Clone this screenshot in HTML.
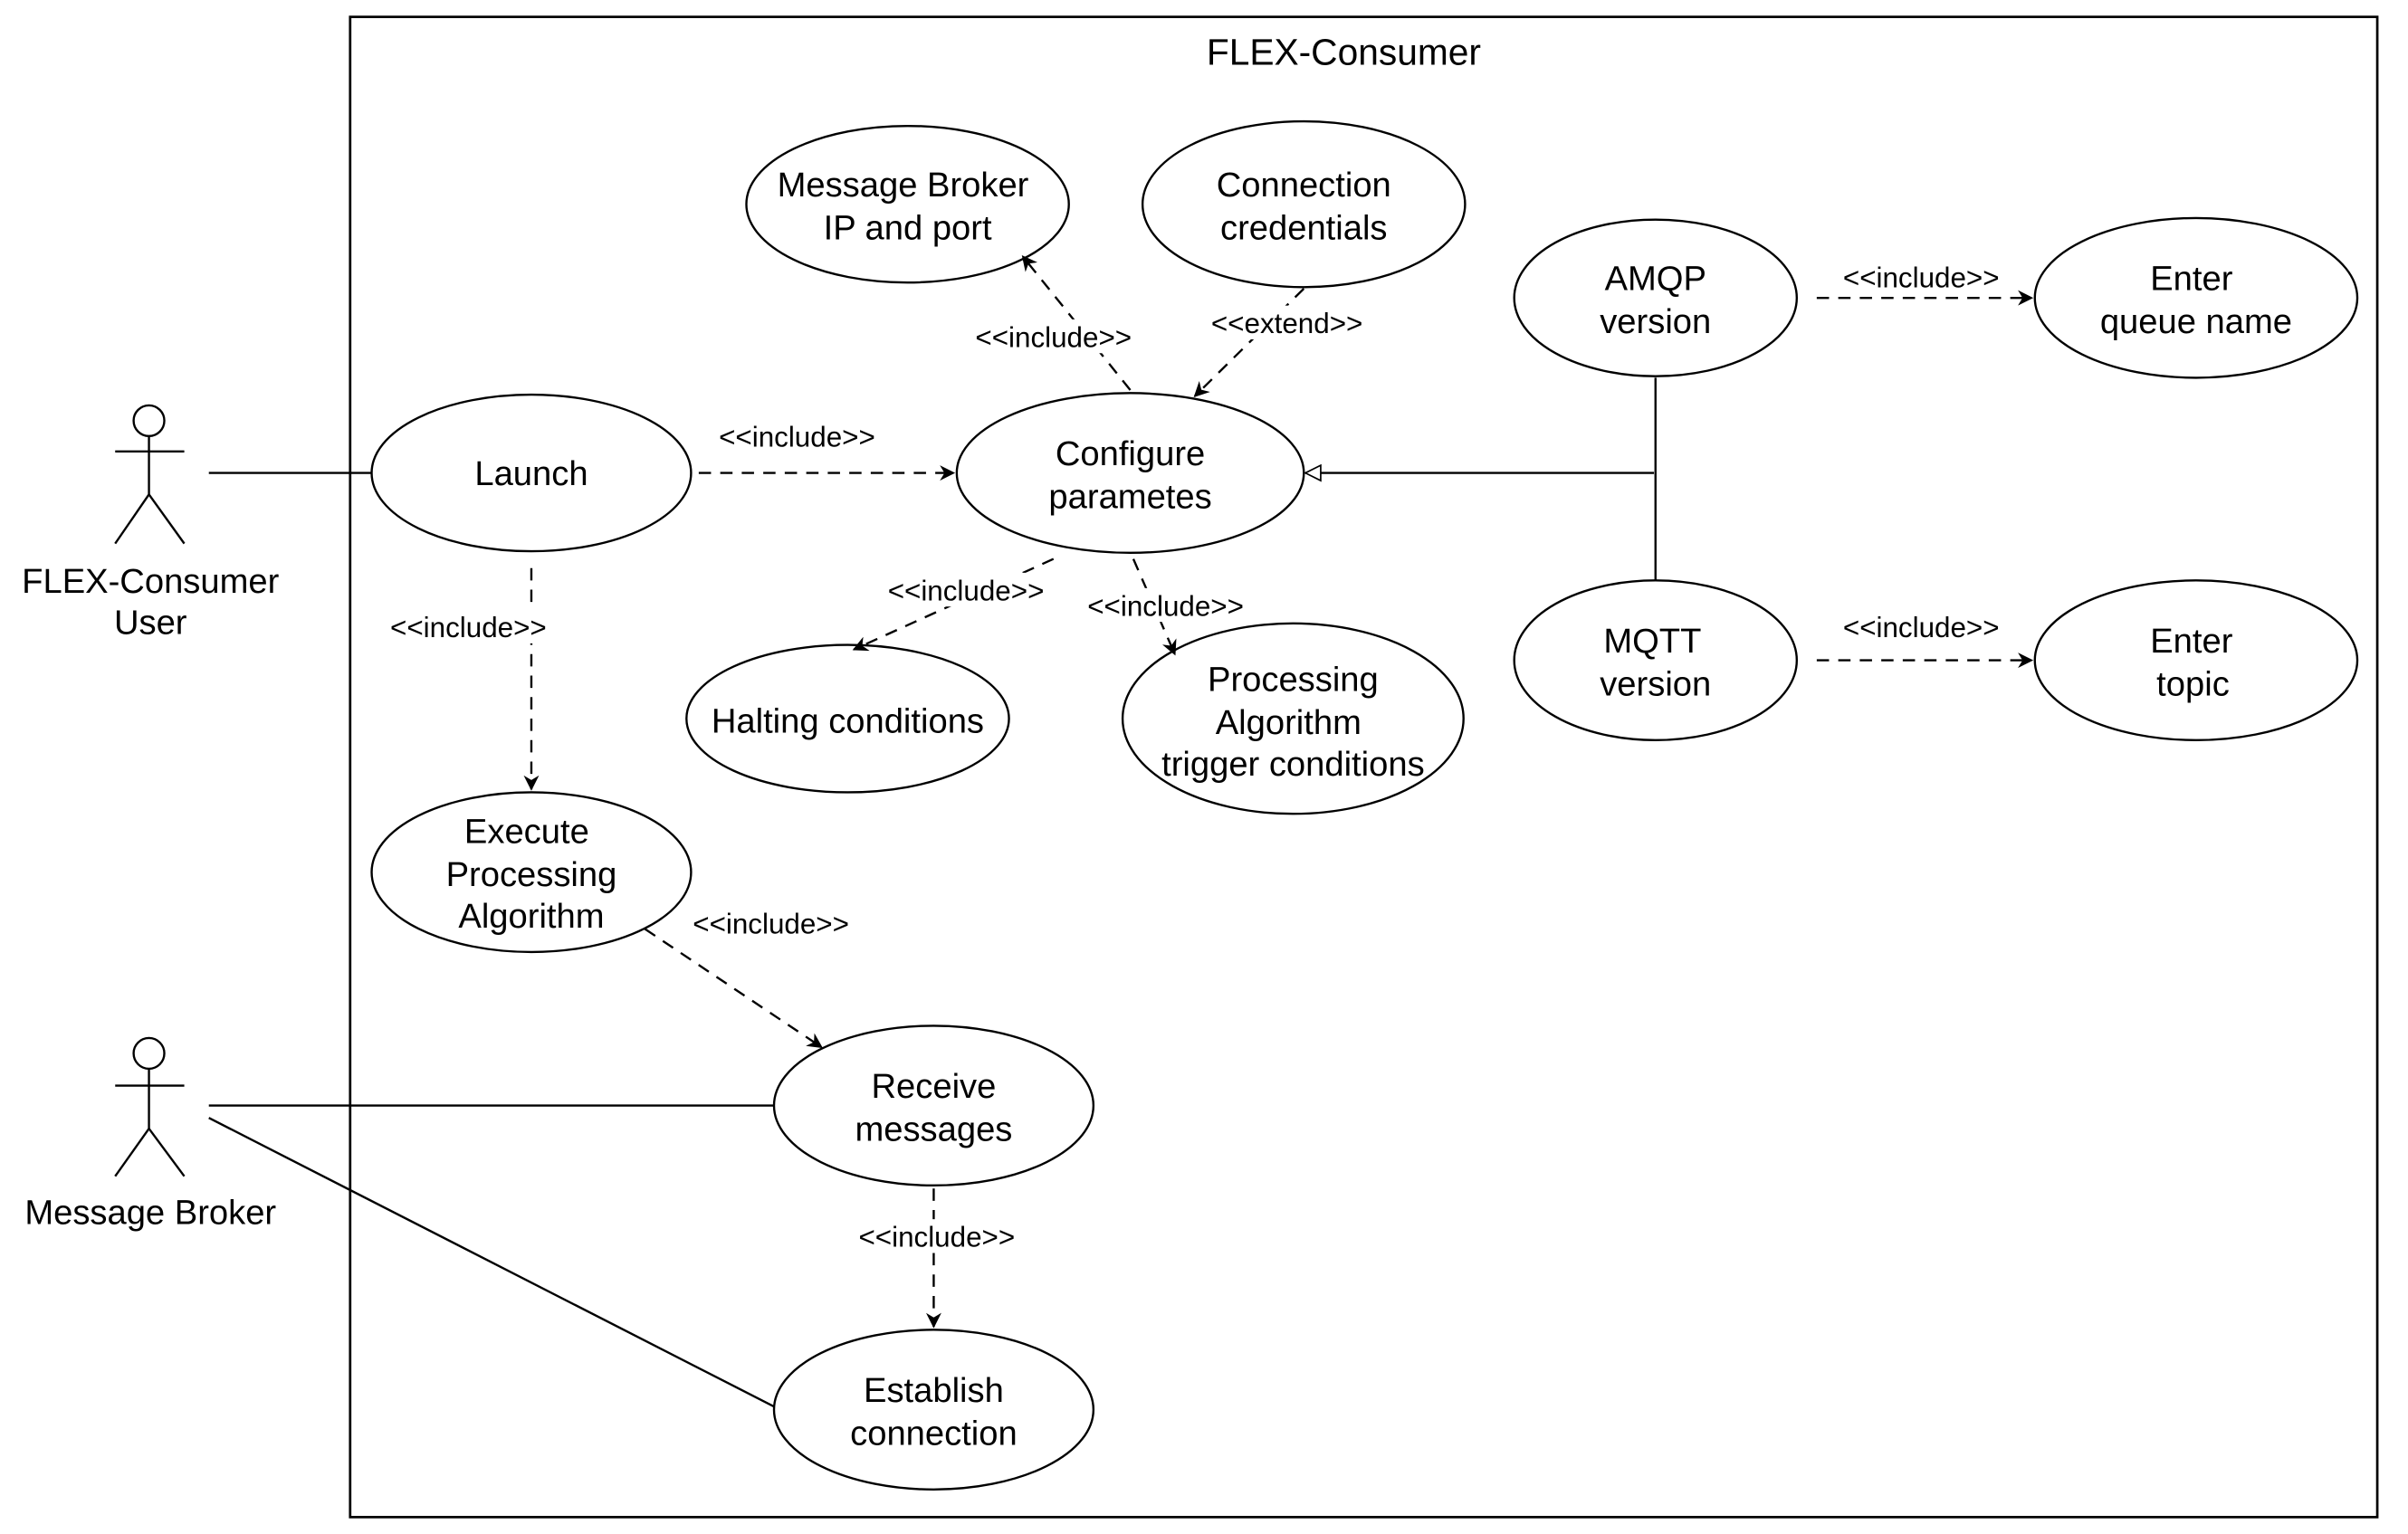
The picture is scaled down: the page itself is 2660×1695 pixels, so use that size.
<!DOCTYPE html>
<html><head><meta charset="utf-8"><style>
html,body{margin:0;padding:0;background:#fff;}
svg{display:block;}
text{font-family:"Liberation Sans",Arial,sans-serif;fill:#000;}
.t{font-size:22.5px;text-anchor:middle;}
.l{font-size:18.5px;text-anchor:middle;}
</style></head><body>
<svg width="2660" height="1695" viewBox="0 0 1568 999" preserveAspectRatio="none" xmlns="http://www.w3.org/2000/svg">
<defs>
<marker id="a" viewBox="0 0 10 10" refX="9" refY="5" markerWidth="10" markerHeight="10" orient="auto" markerUnits="userSpaceOnUse">
<path d="M0,0 L10,5 L0,10 L3,5 Z" fill="#000"/></marker>
<marker id="g" viewBox="0 0 12 12" refX="11" refY="6" markerWidth="12" markerHeight="12" orient="auto" markerUnits="userSpaceOnUse">
<path d="M1,1 L11,6 L1,11 Z" fill="#fff" stroke="#000" stroke-width="1"/></marker>
</defs>
<g fill="none" stroke="#000" stroke-width="1.4">
<rect x="228" y="11" width="1320" height="977" stroke-width="1.6"/>
<circle cx="97" cy="274" r="10"/><line x1="97" y1="284" x2="97" y2="322"/><line x1="75" y1="294" x2="120" y2="294"/><line x1="97" y1="322" x2="75" y2="354"/><line x1="97" y1="322" x2="120" y2="354"/>
<circle cx="97" cy="686" r="10"/><line x1="97" y1="696" x2="97" y2="735"/><line x1="75" y1="707" x2="120" y2="707"/><line x1="97" y1="735" x2="75" y2="766"/><line x1="97" y1="735" x2="120" y2="766"/>
<ellipse cx="346" cy="308" rx="104" ry="51"/>
<ellipse cx="736" cy="308" rx="113" ry="52"/>
<ellipse cx="591" cy="133" rx="105" ry="51"/>
<ellipse cx="849" cy="133" rx="105" ry="54"/>
<ellipse cx="1078" cy="194" rx="92" ry="51"/>
<ellipse cx="1430" cy="194" rx="105" ry="52"/>
<ellipse cx="1078" cy="430" rx="92" ry="52"/>
<ellipse cx="1430" cy="430" rx="105" ry="52"/>
<ellipse cx="552" cy="468" rx="105" ry="48"/>
<ellipse cx="842" cy="468" rx="111" ry="62"/>
<ellipse cx="346" cy="568" rx="104" ry="52"/>
<ellipse cx="608" cy="720" rx="104" ry="52"/>
<ellipse cx="608" cy="918" rx="104" ry="52"/>
<line x1="136" y1="308" x2="242" y2="308"/>
<line x1="136" y1="720" x2="504" y2="720"/>
<line x1="136" y1="728" x2="504" y2="916"/>
<line x1="1078" y1="246" x2="1078" y2="378"/>
<line x1="1077" y1="308" x2="850" y2="308" marker-end="url(#g)"/>
<g stroke-dasharray="8 6">
<line x1="455" y1="308" x2="621" y2="308" marker-end="url(#a)"/>
<line x1="346" y1="370" x2="346" y2="514" marker-end="url(#a)"/>
<line x1="736" y1="254" x2="666" y2="167" marker-end="url(#a)"/>
<line x1="849" y1="188" x2="778" y2="258" marker-end="url(#a)"/>
<line x1="686" y1="364" x2="556" y2="423" marker-end="url(#a)"/>
<line x1="738" y1="364" x2="765" y2="426" marker-end="url(#a)"/>
<line x1="1183" y1="194" x2="1323" y2="194" marker-end="url(#a)"/>
<line x1="1183" y1="430" x2="1323" y2="430" marker-end="url(#a)"/>
<line x1="420" y1="605" x2="535" y2="682" marker-end="url(#a)"/>
<line x1="608" y1="774" x2="608" y2="864" marker-end="url(#a)"/>
</g>
</g>
<g fill="#fff">
<rect x="626" y="208" width="120" height="22"/>
<rect x="784" y="199" width="110" height="22"/>
<rect x="568" y="373" width="122" height="22"/>
<rect x="700" y="383" width="118" height="22"/>
<rect x="246" y="397" width="120" height="22"/>
<rect x="550" y="794" width="120" height="22"/>
</g>
<text class="t" x="875" y="42" style="font-size:24px">FLEX-Consumer</text>
<text class="t" x="98" y="386">FLEX-Consumer</text><text class="t" x="98" y="413">User</text>
<text class="t" x="98" y="797">Message Broker</text>
<text class="t" x="346" y="316">Launch</text>
<text class="t" x="736" y="303">Configure</text><text class="t" x="736" y="331">parametes</text>
<text class="t" x="588" y="128">Message Broker</text><text class="t" x="591" y="156">IP and port</text>
<text class="t" x="849" y="128">Connection</text><text class="t" x="849" y="156">credentials</text>
<text class="t" x="1078" y="189">AMQP</text><text class="t" x="1078" y="217">version</text>
<text class="t" x="1427" y="189">Enter</text><text class="t" x="1430" y="217">queue name</text>
<text class="t" x="1076" y="425">MQTT</text><text class="t" x="1078" y="453">version</text>
<text class="t" x="1427" y="425">Enter</text><text class="t" x="1428" y="453">topic</text>
<text class="t" x="552" y="477">Halting conditions</text>
<text class="t" x="842" y="450">Processing</text><text class="t" x="839" y="478">Algorithm</text><text class="t" x="842" y="505">trigger conditions</text>
<text class="t" x="343" y="549">Execute</text><text class="t" x="346" y="577">Processing</text><text class="t" x="346" y="604">Algorithm</text>
<text class="t" x="608" y="715">Receive</text><text class="t" x="608" y="743">messages</text>
<text class="t" x="608" y="913">Establish</text><text class="t" x="608" y="941">connection</text>
<text class="l" x="519" y="291">&lt;&lt;include&gt;&gt;</text>
<text class="l" x="686" y="226">&lt;&lt;include&gt;&gt;</text>
<text class="l" x="838" y="217">&lt;&lt;extend&gt;&gt;</text>
<text class="l" x="629" y="391">&lt;&lt;include&gt;&gt;</text>
<text class="l" x="759" y="401">&lt;&lt;include&gt;&gt;</text>
<text class="l" x="305" y="415">&lt;&lt;include&gt;&gt;</text>
<text class="l" x="1251" y="187">&lt;&lt;include&gt;&gt;</text>
<text class="l" x="1251" y="415">&lt;&lt;include&gt;&gt;</text>
<text class="l" x="502" y="608">&lt;&lt;include&gt;&gt;</text>
<text class="l" x="610" y="812">&lt;&lt;include&gt;&gt;</text>
</svg>
</body></html>
